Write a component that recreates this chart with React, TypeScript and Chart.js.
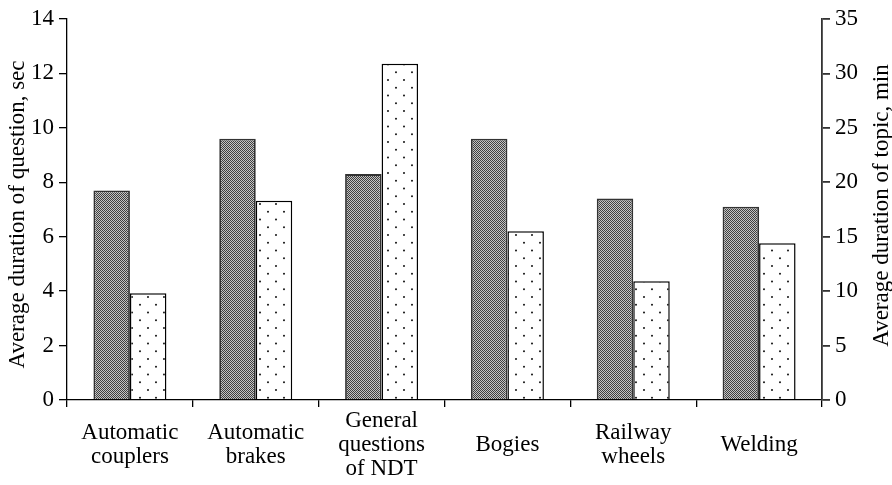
import React, { useEffect, useRef } from "react";
import { Chart, registerables } from "chart.js";

Chart.register(...registerables);

// Topics of the test
const categories: string[][] = [
  ["Automatic", "couplers"],
  ["Automatic", "brakes"],
  ["General", "questions", "of NDT"],
  ["Bogies"],
  ["Railway", "wheels"],
  ["Welding"],
];

// Average duration of one question, seconds (left axis)
const questionDurationSec = [7.7, 9.6, 8.3, 9.6, 7.4, 7.1];

// Average duration of a whole topic, minutes (right axis)
const topicDurationMin = [9.8, 18.3, 30.9, 15.5, 10.9, 14.4];

const leftTicks = { min: 0, max: 14, step: 2 };
const rightTicks = { min: 0, max: 35, step: 5 };

const leftTitle = "Average duration of question, sec";
const rightTitle = "Average duration of topic, min";

const FONT = "'Liberation Serif', 'Times New Roman', serif";

// Fine halftone fill for the "question" bars
function makeHalftone(): CanvasPattern | string {
  const c = document.createElement("canvas");
  c.width = 2;
  c.height = 2;
  const g = c.getContext("2d");
  if (!g) return "#888";
  g.fillStyle = "#c4c4c4";
  g.fillRect(0, 0, 2, 2);
  g.fillStyle = "#3f3f3f";
  g.fillRect(0, 0, 1, 1);
  g.fillRect(1, 1, 1, 1);
  return g.createPattern(c, "repeat") || "#888";
}

// Sparse staggered dots for the "topic" bars
function makeDots(): CanvasPattern | string {
  const c = document.createElement("canvas");
  c.width = 16;
  c.height = 31;
  const g = c.getContext("2d");
  if (!g) return "#fff";
  g.fillStyle = "#ffffff";
  g.fillRect(0, 0, 16, 31);
  g.fillStyle = "#1e1e1e";
  const rows = [0, 7.75, 15.5, 23.25];
  rows.forEach((y, i) => {
    const x = i % 2 === 0 ? 4 : 12;
    g.beginPath();
    g.arc(x, y + 2.5, 1.05, 0, Math.PI * 2);
    g.fill();
  });
  return g.createPattern(c, "repeat") || "#fff";
}

// Both axis titles read bottom-to-top, beside their axes
const sideTitles = {
  id: "sideTitles",
  afterDraw(chart: any) {
    const ctx: CanvasRenderingContext2D = chart.ctx;
    const { top, bottom } = chart.chartArea;
    const mid = (top + bottom) / 2;
    const yl = chart.scales.y;
    const yr = chart.scales.y1;
    const draw = (text: string, x: number, y: number) => {
      ctx.save();
      ctx.font = `23px ${FONT}`;
      ctx.fillStyle = "#000";
      ctx.textAlign = "center";
      ctx.textBaseline = "middle";
      ctx.translate(x, y);
      ctx.rotate(-Math.PI / 2);
      ctx.fillText(text, 0, 0);
      ctx.restore();
    };
    draw(leftTitle, yl.left + 17.5, mid + 5);
    draw(rightTitle, yr.right - 10, mid - 4);
  },
};

export default function App() {
  const canvasRef = useRef<HTMLCanvasElement | null>(null);

  useEffect(() => {
    const canvas = canvasRef.current;
    if (!canvas) return;

    const chart = new Chart(canvas, {
      type: "bar",
      data: {
        labels: categories,
        datasets: [
          {
            label: leftTitle,
            data: questionDurationSec,
            yAxisID: "y",
            backgroundColor: makeHalftone(),
            borderColor: "#333333",
            borderWidth: 1.8,
            barPercentage: 1,
            categoryPercentage: 0.58,
          },
          {
            label: rightTitle,
            data: topicDurationMin,
            yAxisID: "y1",
            backgroundColor: makeDots(),
            borderColor: "#000000",
            borderWidth: 1.5,
            barPercentage: 1,
            categoryPercentage: 0.58,
          },
        ],
      },
      options: {
        animation: false,
        responsive: true,
        maintainAspectRatio: false,
        layout: { padding: { top: 19, left: 0, right: 0, bottom: 0 } },
        plugins: {
          legend: { display: false },
          tooltip: { enabled: false },
        },
        scales: {
          x: {
            grid: {
              display: true,
              offset: true,
              drawOnChartArea: false,
              drawTicks: true,
              tickLength: 7,
              color: "#000",
              lineWidth: 1.3,
            },
            border: { display: true, color: "#000", width: 1.3 },
            ticks: {
              color: "#000",
              font: { family: FONT, size: 23, lineHeight: 1.05 },
              maxRotation: 0,
              minRotation: 0,
              autoSkip: false,
              padding: 13.5,
              crossAlign: "center",
            },
            afterFit: (scale: any) => {
              scale.height = 85;
            },
          },
          y: {
            position: "left",
            min: leftTicks.min,
            max: leftTicks.max,
            grid: {
              display: true,
              drawOnChartArea: false,
              drawTicks: true,
              tickLength: 8,
              color: "#000",
              lineWidth: 1.3,
            },
            border: { display: true, color: "#000", width: 1.3 },
            ticks: {
              stepSize: leftTicks.step,
              color: "#000",
              font: { family: FONT, size: 23 },
              padding: 5,
            },
            afterFit: (scale: any) => {
              scale.width = 67;
            },
          },
          y1: {
            position: "right",
            min: rightTicks.min,
            max: rightTicks.max,
            grid: {
              display: true,
              drawOnChartArea: false,
              drawTicks: true,
              tickLength: 8,
              color: "#333",
              lineWidth: 1.8,
            },
            border: { display: true, color: "#333", width: 1.8 },
            ticks: {
              stepSize: rightTicks.step,
              color: "#000",
              font: { family: FONT, size: 23 },
              padding: 5,
            },
            afterFit: (scale: any) => {
              scale.width = 70;
            },
          },
        },
      },
      plugins: [sideTitles],
    });

    return () => {
      chart.destroy();
    };
  }, []);

  return (
    <div
      style={{
        position: "fixed",
        left: 0,
        top: 0,
        width: 892,
        height: 485,
        background: "#fff",
      }}
    >
      <canvas ref={canvasRef} />
    </div>
  );
}
